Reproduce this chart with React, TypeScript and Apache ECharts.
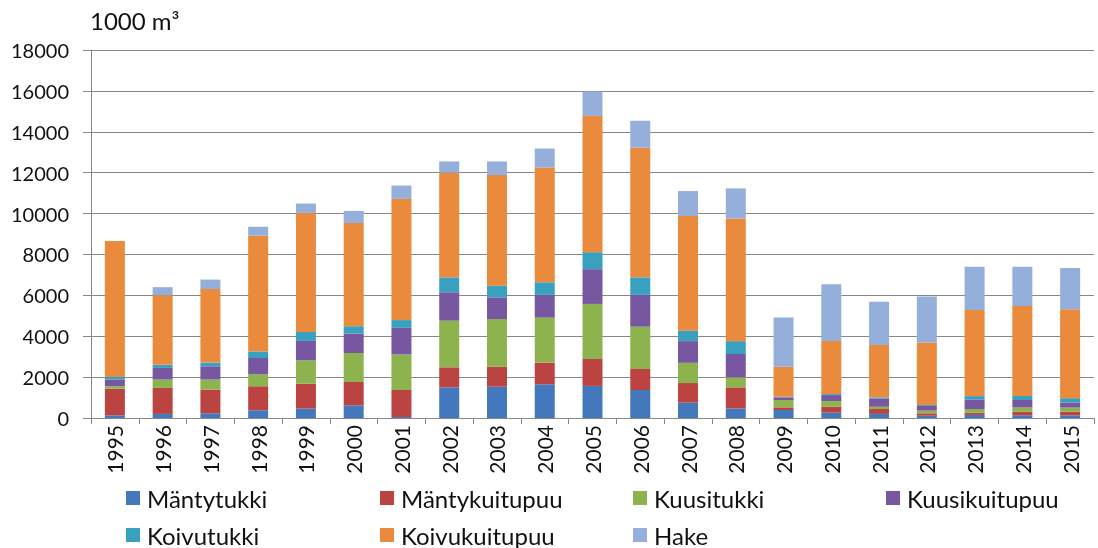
import React, { useEffect, useRef } from "react";
import * as echarts from "echarts";

const years = ["1995","1996","1997","1998","1999","2000","2001","2002","2003","2004","2005","2006","2007","2008","2009","2010","2011","2012","2013","2014","2015"];
const mantytukki = [130,200,230,380,460,620,50,1500,1530,1650,1570,1370,750,470,390,260,200,110,150,130,130];
const mantykuitupuu = [1300,1270,1160,1170,1220,1140,1320,980,980,1060,1320,1030,960,1030,130,290,240,120,110,180,180];
const kuusitukki = [120,410,490,590,1140,1420,1740,2280,2330,2200,2690,2070,990,490,360,280,110,130,180,200,200];
const kuusikuitupuu = [330,570,650,800,950,950,1300,1390,1060,1110,1700,1550,1060,1140,130,290,410,230,470,370,250];
const koivutukki = [130,150,180,310,440,360,380,730,570,620,830,860,510,630,30,50,50,50,160,200,210];
const koivukuitupuu = [6650,3410,3600,5660,5820,5050,5930,5120,5410,5610,6670,6340,5610,6000,1470,2600,2560,3050,4210,4400,4350];
const hake = [0,390,460,440,460,590,650,550,670,930,1190,1320,1220,1470,2400,2770,2120,2250,2120,1920,2020];

const seriesNames = ["Mäntytukki","Mäntykuitupuu","Kuusitukki","Kuusikuitupuu","Koivutukki","Koivukuitupuu","Hake"];
const seriesData = [mantytukki, mantykuitupuu, kuusitukki, kuusikuitupuu, koivutukki, koivukuitupuu, hake];
const colors = ["#4478bd","#bb4443","#8db34f","#77579f","#3aa0bf","#e98a3c","#94afd9"];

const FONT = "Lato, 'Open Sans', sans-serif";

export default function App() {
  const ref = useRef<HTMLDivElement>(null);
  useEffect(() => {
    if (!ref.current) return;
    const chart = echarts.init(ref.current, null, { renderer: "svg" });
    const legendPos = [
      [126, 486], [380, 486], [633, 486], [886, 486],
      [126, 523], [380, 523], [633, 523],
    ];
    chart.setOption({
      animation: false,
      color: colors,
      textStyle: { fontFamily: FONT },
      title: {
        text: "1000 m³",
        left: 90,
        top: 8,
        padding: 0,
        textStyle: { fontFamily: FONT, fontSize: 24, fontWeight: "normal", color: "#111" },
      },
      legend: seriesNames.map((n, i) => ({
        data: [n],
        left: legendPos[i][0],
        top: legendPos[i][1],
        icon: "rect",
        itemWidth: 14,
        itemHeight: 14,
        itemGap: 0,
        padding: 0,
        textStyle: { fontFamily: FONT, fontSize: 24, color: "#111", padding: [0, 0, 0, 2] },
      })),
      grid: { left: 91, right: 4, top: 50, bottom: 130, containLabel: false },
      xAxis: {
        type: "category",
        data: years,
        axisLine: { lineStyle: { color: "#888", width: 1 } },
        axisTick: { show: true, length: 6, lineStyle: { color: "#888" } },
        axisLabel: { rotate: 90, fontSize: 21, color: "#111", margin: 7, fontFamily: FONT },
      },
      yAxis: {
        type: "value",
        min: 0,
        max: 18000,
        interval: 2000,
        axisLine: { show: true, lineStyle: { color: "#888", width: 1 } },
        axisTick: { show: true, length: 8, lineStyle: { color: "#888" } },
        axisLabel: { fontSize: 20, color: "#111", margin: 22, fontFamily: FONT, formatter: (v: number) => String(v) },
        splitLine: { lineStyle: { color: "#888", width: 1 } },
      },
      series: seriesNames.map((n, i) => ({
        name: n,
        type: "bar",
        stack: "total",
        barWidth: 20,
        data: seriesData[i],
      })),
    });
    return () => chart.dispose();
  }, []);
  return <div ref={ref} style={{ position: "fixed", left: 0, top: 0, width: 1098, height: 548 }} />;
}
